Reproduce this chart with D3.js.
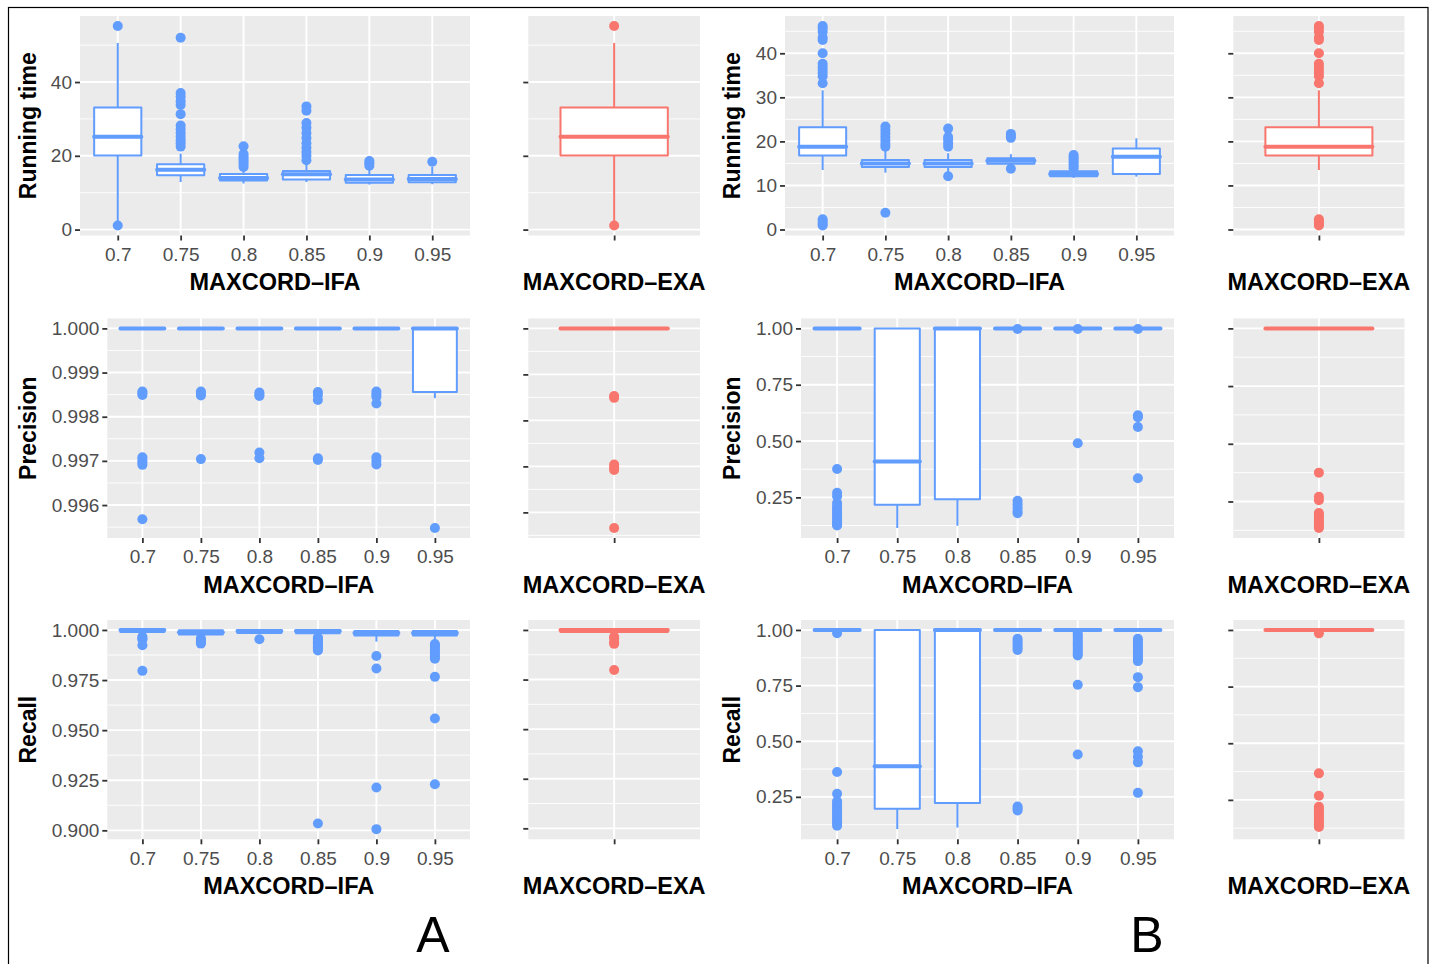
<!DOCTYPE html>
<html><head><meta charset="utf-8">
<script src="https://cdn.jsdelivr.net/npm/d3@7"></script>
<style>body{margin:0;background:#fff}</style>
</head><body><svg id="c" width="1432" height="964"></svg>
<script>
// ---------------- DATA ----------------
const categories = ["0.7","0.75","0.8","0.85","0.9","0.95"];
const exaCategory = ["EXA"];
const xTitleIFA = "MAXCORD–IFA";
const xTitleEXA = "MAXCORD–EXA";
const rowTitles = ["Running time","Precision","Recall"];
const groupLetters = ["A","B"];

// box stats: [lower whisker, q1, median, q3, upper whisker]
// ---- A: running time
const aTimeBox = [[1.4,20.1,25.2,33.1,50.6],[12.9,14.7,16.2,17.7,20.6],[12.5,13.3,14.0,15.1,16.3],[12.9,13.6,15.0,15.9,17.9],[12.2,12.7,13.6,14.8,16.5],[12.3,12.8,13.7,14.8,17.0]];
const aTimeOut = [[55.2,1.1],[52.0,37.0,36.0,34.8,33.8,31.3,28.2,27.2,26.2,25.2,24.2,23.4,22.5],[22.6,20.5,19.8,19.2,18.5,17.8,17.0],[33.4,32.2,28.9,27.6,26.2,24.8,23.4,22.2,21.0,20.0,18.8],[18.6,18.0,17.3],[18.4]];
const aTimeExaBox = [[1.4,20.1,25.2,33.1,50.6]];
const aTimeExaOut = [[55.2,1.1]];
const aTimeLimits = [1.1,55.2];
const aTimeExaLimits = [1.1,55.2];
const aTimeTicks = [0,20,40];
// ---- B: running time
const bTimeBox = [[13.5,16.8,18.8,23.2,31.6],[12.9,14.2,15.0,15.8,18.0],[12.6,14.2,15.0,15.8,17.3],[14.5,14.9,15.6,16.2,17.1],[11.7,12.1,12.6,13.2,13.7],[12.0,12.6,16.5,18.4,20.7]];
const bTimeOut = [[46.2,45.6,44.9,43.6,43.0,40.0,37.6,36.9,36.2,35.5,34.8,33.2,2.3,1.8,1.3,0.9],[23.4,22.6,21.8,21.0,20.2,19.4,18.8,3.8],[22.9,21.0,20.4,19.5,18.8,12.1],[21.7,21.2,20.8,13.8],[16.9,16.4,15.9,15.4,14.9,14.4,13.9],[]];
const bTimeExaBox = [[13.5,16.8,18.8,23.2,31.6]];
const bTimeExaOut = [[46.2,45.6,44.9,43.6,43.0,40.0,37.6,36.9,36.2,35.5,34.8,33.2,2.3,1.8,1.3,0.9]];
const bTimeLimits = [0.9,46.2];
const bTimeExaLimits = [0.9,46.2];
const bTimeTicks = [0,10,20,30,40];
// ---- A: precision
const aPrecBox = [[1,1,1,1,1],[1,1,1,1,1],[1,1,1,1,1],[1,1,1,1,1],[1,1,1,1,1],[0.99842,0.99856,1,1,1]];
const aPrecOut = [[0.99857,0.99853,0.99849,0.99708,0.99702,0.99697,0.99691,0.99568],[0.99857,0.99852,0.99848,0.99704],[0.99855,0.99850,0.99847,0.99719,0.99706],[0.99856,0.99849,0.99838,0.99706,0.99702],[0.99857,0.99851,0.99845,0.99830,0.99708,0.99700,0.99692],[0.99548]];
const aPrecExaBox = [[1,1,1,1,1]];
const aPrecExaOut = [[0.99853,0.99849,0.99704,0.99698,0.99692,0.99566]];
const aPrecLimits = [0.99548,1.0];
const aPrecExaLimits = [0.99566,1.0];
const aPrecTicks = [0.996,0.997,0.998,0.999,1.000];
// ---- B: precision
const bPrecBox = [[1,1,1,1,1],[0.114,0.217,0.409,1,1],[0.124,0.242,1,1,1],[1,1,1,1,1],[1,1,1,1,1],[1,1,1,1,1]];
const bPrecOut = [[0.376,0.270,0.255,0.225,0.21,0.20,0.19,0.18,0.17,0.16,0.15,0.14,0.13,0.125],[],[],[0.997,0.235,0.22,0.205,0.19,0.18],[0.997,0.49],[0.997,0.614,0.606,0.562,0.335]];
const bPrecExaBox = [[1,1,1,1,1]];
const bPrecExaOut = [[0.375,0.27,0.255,0.20,0.19,0.18,0.17,0.16,0.15,0.14,0.135]];
const bPrecLimits = [0.114,1.0];
const bPrecExaLimits = [0.135,1.0];
const bPrecTicks = [0.25,0.50,0.75,1.00];
// ---- A: recall
const aRecBox = [[0.9982,0.9990,1,1,1],[0.9962,0.9978,0.9988,0.9998,1],[0.9980,0.9985,0.9995,1,1],[0.9975,0.9984,0.9995,1,1],[0.9942,0.9972,0.9985,0.9995,1],[0.9940,0.9972,0.9985,0.9995,1]];
const aRecOut = [[0.9966,0.9958,0.9952,0.9924,0.9796],[0.9958,0.9948,0.9938,0.9932],[0.9954],[0.9962,0.9956,0.9950,0.9944,0.9938,0.9932,0.9926,0.9920,0.9914,0.9905,0.9898,0.9034],[0.9870,0.9808,0.9214,0.9006],[0.9930,0.9922,0.9915,0.9905,0.9895,0.9885,0.9875,0.9866,0.9856,0.9766,0.9558,0.9230]];
const aRecExaBox = [[0.9985,0.9990,1,1,1]];
const aRecExaOut = [[0.9966,0.9958,0.9938,0.9930,0.9798]];
const aRecLimits = [0.9005,1.0];
const aRecExaLimits = [0.8995,1.0];
const aRecTicks = [0.900,0.925,0.950,0.975,1.000];
// ---- B: recall
const bRecBox = [[1,1,1,1,1],[0.105,0.197,0.387,1,1],[0.112,0.222,1,1,1],[1,1,1,1,1],[1,1,1,1,1],[1,1,1,1,1]];
const bRecOut = [[0.985,0.362,0.264,0.23,0.22,0.21,0.20,0.19,0.18,0.17,0.16,0.15,0.14,0.13,0.12],[],[],[0.96,0.95,0.94,0.93,0.92,0.91,0.207,0.198,0.189],[0.985,0.975,0.965,0.955,0.945,0.935,0.925,0.915,0.905,0.895,0.885,0.754,0.44],[0.96,0.95,0.94,0.93,0.92,0.91,0.90,0.89,0.88,0.87,0.86,0.788,0.743,0.455,0.43,0.405,0.268]];
const bRecExaBox = [[1,1,1,1,1]];
const bRecExaOut = [[0.985,0.367,0.268,0.22,0.21,0.20,0.19,0.18,0.17,0.16,0.15,0.14,0.13]];
const bRecLimits = [0.104,1.0];
const bRecExaLimits = [0.12,1.0];
const bRecTicks = [0.25,0.50,0.75,1.00];

// ---------------- LAYOUT ----------------
const W = 1432, H = 964;
const IFA_COLOR = "#619CFF", EXA_COLOR = "#F8766D";
const rowsY = [[16,235.5],[318.4,538],[620,839.3]];
const colsA = {ifa:[[80,470],[107.3,470],[107.3,470]], exa:[528.3,700], title:28, letter:433};
const colsB = {ifa:[[785,1174],[801,1174],[801,1174]], exa:[1233.3,1404.5], title:732, letter:1147};
const FONT = "'Liberation Sans', Arial, Helvetica, sans-serif";

const svg = d3.select("#c");
svg.append("rect").attr("width",W).attr("height",H).attr("fill","#fff");
svg.append("rect").attr("x",8.5).attr("y",7.5).attr("width",1419.5).attr("height",1000)
  .attr("fill","none").attr("stroke","#000").attr("stroke-width",1.2);

function fmtFor(ticks){
  const d = ticks.some(t=>Math.abs(t*100-Math.round(t*100))>1e-6) ? 3 : (ticks.some(t=>t%1!==0)?2:0);
  return d3.format("." + d + "f");
}

function drawPanel(p){
  const [x0,x1] = p.x, [y0,y1] = p.y;
  const r = p.limits[1]-p.limits[0];
  const y = d3.scaleLinear().domain([p.limits[0]-0.05*r, p.limits[1]+0.05*r]).range([y1,y0]);
  const x = d3.scalePoint().domain(p.cats).range([x0,x1]).padding(0.6);
  const bw = x.step()*0.75;
  const g = svg.append("g");
  g.append("rect").attr("x",x0).attr("y",y0).attr("width",x1-x0).attr("height",y1-y0).attr("fill","#EBEBEB");
  const t = p.ticks, st = t[1]-t[0];
  const minors = [];
  for(let v=t[0]-st/2; v<=t[t.length-1]+st; v+=st){ minors.push(v); }
  const dom = y.domain();
  g.selectAll(".mn").data(minors.filter(v=>v>=dom[0]&&v<=dom[1])).join("line")
    .attr("x1",x0).attr("x2",x1).attr("y1",d=>y(d)).attr("y2",d=>y(d))
    .attr("stroke","#fff").attr("stroke-width",0.9);
  g.selectAll(".mj").data(t).join("line")
    .attr("x1",x0).attr("x2",x1).attr("y1",d=>y(d)).attr("y2",d=>y(d))
    .attr("stroke","#fff").attr("stroke-width",1.9);
  g.selectAll(".vg").data(p.cats).join("line")
    .attr("x1",d=>x(d)).attr("x2",d=>x(d)).attr("y1",y0).attr("y2",y1)
    .attr("stroke","#fff").attr("stroke-width",1.9);
  p.cats.forEach((c,i)=>{
    g.selectAll(null).data(p.out[i]).join("circle")
      .attr("cx",x(c)).attr("cy",d=>y(d)).attr("r",5).attr("fill",p.color);
  });
  p.cats.forEach((c,i)=>{
    const [lo,q1,md,q3,hi] = p.box[i];
    const cx = x(c);
    g.append("line").attr("x1",cx).attr("x2",cx).attr("y1",y(q3)).attr("y2",y(hi)).attr("stroke",p.color).attr("stroke-width",2);
    g.append("line").attr("x1",cx).attr("x2",cx).attr("y1",y(q1)).attr("y2",y(lo)).attr("stroke",p.color).attr("stroke-width",2);
    g.append("rect").attr("x",cx-bw/2).attr("y",y(q3)).attr("width",bw).attr("height",Math.max(0,y(q1)-y(q3)))
      .attr("fill","#fff").attr("stroke",p.color).attr("stroke-width",2).attr("stroke-linejoin","round");
    g.append("line").attr("x1",cx-bw/2).attr("x2",cx+bw/2).attr("y1",y(md)).attr("y2",y(md))
      .attr("stroke",p.color).attr("stroke-width",4).attr("stroke-linecap","round");
  });
  const fmt = fmtFor(t);
  const ay = g.append("g").attr("transform",`translate(${x0},0)`)
    .call(d3.axisLeft(y).tickValues(t).tickSize(5).tickPadding(3).tickFormat(p.labels?fmt:""));
  const ax = g.append("g").attr("transform",`translate(0,${y1})`)
    .call(d3.axisBottom(x).tickSize(5).tickPadding(7).tickFormat(p.labels?(d=>d):""));
  [ay,ax].forEach(a=>{
    a.select(".domain").remove();
    a.selectAll(".tick line").attr("stroke","#333").attr("stroke-width",1.8);
    a.selectAll("text").attr("fill","#4D4D4D").attr("font-family",FONT).attr("font-size",19);
  });
  svg.append("text").attr("x",(x0+x1)/2).attr("y",y1+54.5).attr("text-anchor","middle")
    .attr("font-family",FONT).attr("font-weight","bold").attr("font-size",23.5).attr("fill","#000")
    .text(p.xtitle);
}

const groups = [
  {cols:colsA, rows:[
    [aTimeBox,aTimeOut,aTimeLimits,aTimeExaBox,aTimeExaOut,aTimeExaLimits,aTimeTicks],
    [aPrecBox,aPrecOut,aPrecLimits,aPrecExaBox,aPrecExaOut,aPrecExaLimits,aPrecTicks],
    [aRecBox,aRecOut,aRecLimits,aRecExaBox,aRecExaOut,aRecExaLimits,aRecTicks]]},
  {cols:colsB, rows:[
    [bTimeBox,bTimeOut,bTimeLimits,bTimeExaBox,bTimeExaOut,bTimeExaLimits,bTimeTicks],
    [bPrecBox,bPrecOut,bPrecLimits,bPrecExaBox,bPrecExaOut,bPrecExaLimits,bPrecTicks],
    [bRecBox,bRecOut,bRecLimits,bRecExaBox,bRecExaOut,bRecExaLimits,bRecTicks]]}
];

groups.forEach((gr,gi)=>{
  gr.rows.forEach((rw,ri)=>{
    const [box,out,lim,ebox,eout,elim,ticks] = rw;
    drawPanel({x:gr.cols.ifa[ri], y:rowsY[ri], cats:categories, box, out, limits:lim, ticks, labels:true, color:IFA_COLOR, xtitle:xTitleIFA});
    drawPanel({x:gr.cols.exa, y:rowsY[ri], cats:exaCategory, box:ebox, out:eout, limits:elim, ticks, labels:false, color:EXA_COLOR, xtitle:xTitleEXA});
    const cy = (rowsY[ri][0]+rowsY[ri][1])/2;
    svg.append("text").attr("transform",`translate(${gr.cols.title},${cy}) rotate(-90)`)
      .attr("text-anchor","middle").attr("dominant-baseline","central")
      .attr("font-family",FONT).attr("font-weight","bold").attr("font-size",23).attr("fill","#000")
      .text(rowTitles[ri]);
  });
  svg.append("text").attr("x",gr.cols.letter).attr("y",952).attr("text-anchor","middle")
    .attr("font-family",FONT).attr("font-size",50).attr("fill","#000").text(groupLetters[gi]);
});
</script>
</body></html>
